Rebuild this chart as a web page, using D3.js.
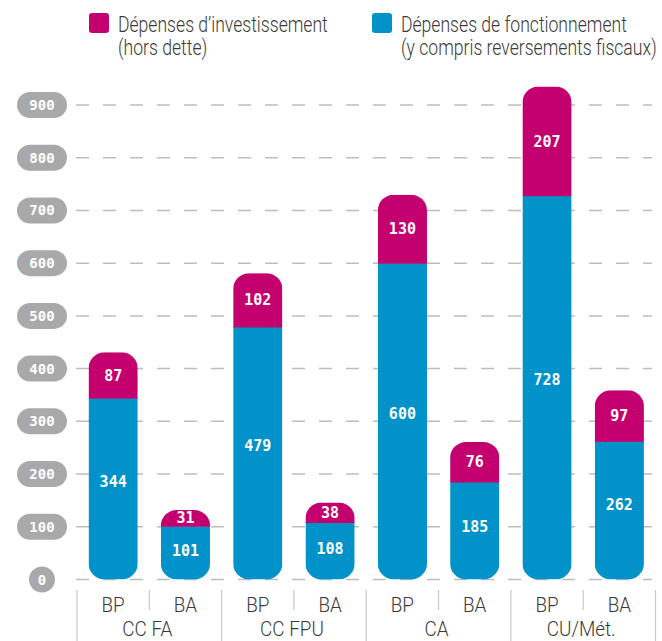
<!DOCTYPE html>
<html>
<head>
<meta charset="utf-8">
<script src="https://cdn.jsdelivr.net/npm/d3@7"></script>
<style>
  html, body { margin: 0; padding: 0; background: #fff; }
  svg { display: block; }
</style>
</head>
<body>
<svg id="chart" width="662" height="641"></svg>
<script>
// Categories: collectivity groups, each split into BP / BA
const groups = ["CC FA", "CC FPU", "CA", "CU/Mét."];
const subLabels = ["BP", "BA"];
const barKeys = ["CC FA|BP", "CC FA|BA", "CC FPU|BP", "CC FPU|BA", "CA|BP", "CA|BA", "CU/Mét.|BP", "CU/Mét.|BA"];

// Series values (millions)
const fonctionnement = [344, 101, 479, 108, 600, 185, 728, 262];
const investissement = [87, 31, 102, 38, 130, 76, 207, 97];

const yTicks = [0, 100, 200, 300, 400, 500, 600, 700, 800, 900];
const seriesNames = ["Dépenses d’investissement|(hors dette)", "Dépenses de fonctionnement|(y compris reversements fiscaux)"];

const colInv = "#C4006F";
const colFonc = "#0092C9";
const colPill = "#A9A9AC";
const colGrid = "#BDBDBD";
const colText = "#3a3a3a";

const svg = d3.select("#chart");

const x = d3.scaleBand().domain(barKeys).range([77, 655.5]).paddingInner(0.32).paddingOuter(0.16);
const y = d3.scaleLinear().domain([0, 900]).range([579.5, 105]);

// Grid lines
svg.append("g").selectAll("line").data(yTicks).join("line")
  .attr("x1", 76).attr("x2", 652)
  .attr("y1", d => y(d)).attr("y2", d => y(d))
  .attr("stroke", colGrid).attr("stroke-width", 1.5)
  .attr("stroke-dasharray", "13 14");

// Y tick pills
const pillG = svg.append("g").selectAll("g").data(yTicks).join("g")
  .attr("transform", d => `translate(42,${y(d)})`);
pillG.append("rect")
  .attr("x", d => d === 0 ? -13 : -25).attr("y", -13)
  .attr("width", d => d === 0 ? 26 : 50).attr("height", 26)
  .attr("rx", 13).attr("fill", colPill);
pillG.append("text")
  .attr("text-anchor", "middle").attr("dy", "0.36em")
  .attr("fill", "#fff").attr("font-family", "DejaVu Sans Mono")
  .attr("font-weight", "bold").attr("font-size", 14)
  .text(d => d);

// Bars: clip each stacked bar to a rounded column shape
const defs = svg.append("defs");
const data = barKeys.map((k, i) => ({ key: k, i, f: fonctionnement[i], v: investissement[i] }));
const r = 16;
data.forEach(d => {
  defs.append("clipPath").attr("id", "clip" + d.i)
    .append("rect")
    .attr("x", x(d.key)).attr("width", x.bandwidth())
    .attr("y", y(d.f + d.v)).attr("height", y(0) - y(d.f + d.v))
    .attr("rx", r);
});
const bars = svg.append("g").selectAll("g").data(data).join("g")
  .attr("clip-path", d => `url(#clip${d.i})`);
bars.append("rect")
  .attr("x", d => x(d.key)).attr("width", x.bandwidth())
  .attr("y", d => y(d.f)).attr("height", d => y(0) - y(d.f))
  .attr("fill", colFonc);
bars.append("rect")
  .attr("x", d => x(d.key)).attr("width", x.bandwidth())
  .attr("y", d => y(d.f + d.v)).attr("height", d => y(d.f) - y(d.f + d.v) + 0.5)
  .attr("fill", colInv);

// Value labels
const lab = svg.append("g").attr("fill", "#fff")
  .attr("font-family", "DejaVu Sans Mono").attr("font-weight", "bold")
  .attr("font-size", 15).attr("text-anchor", "middle");
lab.selectAll("text.f").data(data).join("text").attr("class", "f")
  .attr("x", d => x(d.key) + x.bandwidth() / 2)
  .attr("y", d => (y(0) + y(d.f)) / 2 - Math.min(8, (y(0) - y(d.f)) * 0.04))
  .attr("dy", "0.36em").text(d => d.f);
lab.selectAll("text.v").data(data).join("text").attr("class", "v")
  .attr("x", d => x(d.key) + x.bandwidth() / 2)
  .attr("y", d => (y(d.f) + y(d.f + d.v)) / 2)
  .attr("dy", "0.36em").text(d => d.v);

// Category axis: separators and labels (narrowed light face)
const step = x.step();
const sx = 0.9;
const axisG = svg.append("g");
const sepXs = d3.range(barKeys.length + 1).map(i => x(barKeys[0]) - x.paddingInner() * step / 2 + i * step);
axisG.selectAll("line").data(sepXs).join("line")
  .attr("x1", d => d).attr("x2", d => d)
  .attr("y1", 590).attr("y2", (d, i) => i % 2 === 0 ? 641 : 610)
  .attr("stroke", "#c8c8c8").attr("stroke-width", 1.2);
const axisText = axisG.append("g").attr("transform", `scale(${sx},1)`)
  .attr("fill", colText).attr("font-family", "Roboto").attr("font-weight", 300)
  .attr("font-size", 21).attr("text-anchor", "middle");
axisText.selectAll("text.sub").data(data).join("text").attr("class", "sub")
  .attr("x", d => (x(d.key) + x.bandwidth() / 2) / sx).attr("y", 612)
  .text(d => subLabels[d.i % 2]);
axisText.selectAll("text.grp").data(groups).join("text").attr("class", "grp")
  .attr("x", (d, i) => (sepXs[i * 2 + 1] - 2) / sx).attr("y", 636)
  .text(d => d);

// Legend
const legend = [
  { name: seriesNames[0], color: colInv, x: 89 },
  { name: seriesNames[1], color: colFonc, x: 372 }
];
const lsx = 0.8;
const lg = svg.append("g").selectAll("g").data(legend).join("g")
  .attr("transform", d => `translate(${d.x},0)`);
lg.append("rect").attr("x", 0).attr("y", 13).attr("width", 20).attr("height", 20)
  .attr("rx", 3).attr("fill", d => d.color);
lg.append("g").attr("transform", `scale(${lsx},1)`)
  .append("text")
  .attr("fill", colText).attr("font-family", "Roboto").attr("font-weight", 300)
  .attr("font-size", 22)
  .selectAll("tspan").data(d => d.name.split("|")).join("tspan")
  .attr("x", 29 / lsx).attr("y", (t, i) => 32 + i * 23).text(t => t);
</script>
</body>
</html>
